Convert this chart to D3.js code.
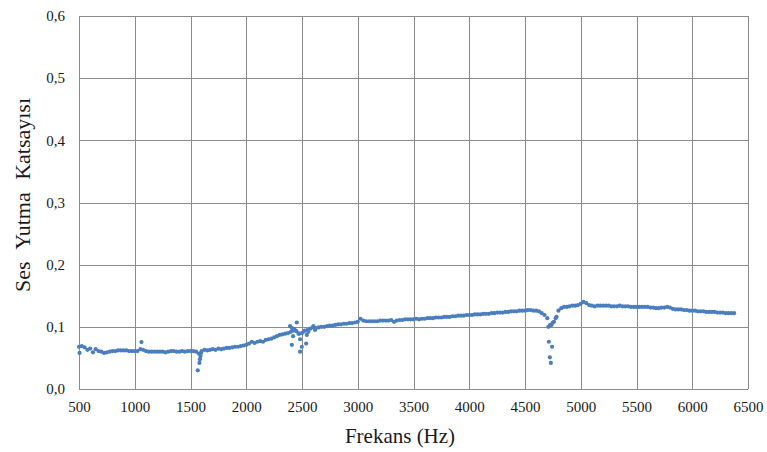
<!DOCTYPE html>
<html>
<head>
<meta charset="utf-8">
<script src="https://cdn.jsdelivr.net/npm/d3@7"></script>
<style>
  body { margin: 0; background: #fff; }
  svg { display: block; }
</style>
</head>
<body>
<div id="chart"></div>
<script>
// measured absorption, 25 Hz grid
const freq = [
  500, 525, 550, 575, 600, 625, 650, 675, 700, 725, 750, 775, 800, 825, 850, 875, 900, 925, 950, 975,
  1000, 1025, 1050, 1075, 1100, 1125, 1150, 1175, 1200, 1225, 1250, 1275, 1300, 1325, 1350, 1375, 1400, 1425, 1450, 1475,
  1500, 1525, 1550, 1575, 1600, 1625, 1650, 1675, 1700, 1725, 1750, 1775, 1800, 1825, 1850, 1875, 1900, 1925, 1950, 1975,
  2000, 2025, 2050, 2075, 2100, 2125, 2150, 2175, 2200, 2225, 2250, 2275, 2300, 2325, 2350, 2375, 2400, 2425, 2450, 2475,
  2500, 2525, 2550, 2575, 2600, 2625, 2650, 2675, 2700, 2725, 2750, 2775, 2800, 2825, 2850, 2875, 2900, 2925, 2950, 2975,
  3000, 3025, 3050, 3075, 3100, 3125, 3150, 3175, 3200, 3225, 3250, 3275, 3300, 3325, 3350, 3375, 3400, 3425, 3450, 3475,
  3500, 3525, 3550, 3575, 3600, 3625, 3650, 3675, 3700, 3725, 3750, 3775, 3800, 3825, 3850, 3875, 3900, 3925, 3950, 3975,
  4000, 4025, 4050, 4075, 4100, 4125, 4150, 4175, 4200, 4225, 4250, 4275, 4300, 4325, 4350, 4375, 4400, 4425, 4450, 4475,
  4500, 4525, 4550, 4575, 4600, 4625, 4650, 4675, 4700, 4725, 4750, 4775, 4800, 4825, 4850, 4875, 4900, 4925, 4950, 4975,
  5000, 5025, 5050, 5075, 5100, 5125, 5150, 5175, 5200, 5225, 5250, 5275, 5300, 5325, 5350, 5375, 5400, 5425, 5450, 5475,
  5500, 5525, 5550, 5575, 5600, 5625, 5650, 5675, 5700, 5725, 5750, 5775, 5800, 5825, 5850, 5875, 5900, 5925, 5950, 5975,
  6000, 6025, 6050, 6075, 6100, 6125, 6150, 6175, 6200, 6225, 6250, 6275, 6300, 6325, 6350, 6375
];
const absorption = [
  0.068, 0.069, 0.067, 0.063, 0.065, 0.059, 0.064, 0.061, 0.060, 0.058, 0.059, 0.060, 0.061, 0.061, 0.062, 0.062, 0.062, 0.062, 0.061, 0.061,
  0.061, 0.061, 0.064, 0.063, 0.061, 0.060, 0.060, 0.060, 0.060, 0.060, 0.060, 0.059, 0.060, 0.061, 0.061, 0.060, 0.060, 0.061, 0.060, 0.061,
  0.061, 0.061, 0.060, 0.057, 0.061, 0.063, 0.062, 0.063, 0.064, 0.063, 0.065, 0.064, 0.065, 0.066, 0.066, 0.067, 0.068, 0.068, 0.069, 0.070,
  0.071, 0.073, 0.076, 0.074, 0.076, 0.077, 0.076, 0.079, 0.080, 0.081, 0.083, 0.085, 0.087, 0.088, 0.089, 0.090, 0.092, 0.094, 0.093, 0.089,
  0.090, 0.094, 0.095, 0.097, 0.099, 0.098, 0.099, 0.100, 0.100, 0.101, 0.102, 0.102, 0.103, 0.104, 0.104, 0.105, 0.105, 0.106, 0.106, 0.107,
  0.108, 0.113, 0.110, 0.109, 0.109, 0.109, 0.109, 0.109, 0.110, 0.110, 0.110, 0.110, 0.111, 0.108, 0.110, 0.111, 0.111, 0.112, 0.112, 0.112,
  0.112, 0.113, 0.112, 0.113, 0.113, 0.114, 0.114, 0.114, 0.115, 0.115, 0.115, 0.116, 0.116, 0.116, 0.117, 0.117, 0.118, 0.118, 0.118, 0.119,
  0.119, 0.119, 0.120, 0.120, 0.120, 0.121, 0.121, 0.121, 0.122, 0.122, 0.123, 0.123, 0.123, 0.124, 0.124, 0.125, 0.125, 0.125, 0.126, 0.126,
  0.126, 0.127, 0.127, 0.126, 0.126, 0.125, 0.122, 0.119, 0.114, 0.103, 0.107, 0.114, 0.126, 0.130, 0.132, 0.132, 0.133, 0.134, 0.134, 0.135,
  0.137, 0.140, 0.138, 0.135, 0.134, 0.133, 0.134, 0.134, 0.134, 0.134, 0.134, 0.133, 0.133, 0.133, 0.134, 0.133, 0.133, 0.133, 0.132, 0.132,
  0.132, 0.132, 0.132, 0.132, 0.132, 0.131, 0.131, 0.130, 0.130, 0.131, 0.131, 0.132, 0.131, 0.129, 0.128, 0.128, 0.128, 0.127, 0.127, 0.126,
  0.126, 0.126, 0.125, 0.125, 0.125, 0.124, 0.124, 0.124, 0.124, 0.123, 0.123, 0.123, 0.122, 0.122, 0.122, 0.122
];

// scattered readings off the grid (dips around 1570, 2450, 4720 Hz)
const extraFreq = [
  505, 1060, 1565, 1580, 1585, 1590, 1595,
  2393, 2409, 2410, 2420, 2432, 2453, 2468, 2483, 2483, 2498, 2513, 2537, 2543, 2557, 2602, 2617,
  4710, 4714, 4723, 4732, 4738, 4743, 4760, 4783
];
const extraAbs = [
  0.058, 0.0755, 0.030, 0.042, 0.048, 0.053, 0.058,
  0.101, 0.071, 0.098, 0.085, 0.096, 0.107, 0.089, 0.060, 0.080, 0.068, 0.092, 0.073, 0.087, 0.092, 0.101, 0.095,
  0.100, 0.076, 0.051, 0.042, 0.103, 0.068, 0.108, 0.116
];

const xTicks = [500, 1000, 1500, 2000, 2500, 3000, 3500, 4000, 4500, 5000, 5500, 6000, 6500];
const yTicks = [0, 0.1, 0.2, 0.3, 0.4, 0.5, 0.6];

const W = 767, H = 452;
const margin = { top: 16, right: 19, bottom: 63, left: 79 };
const width = W - margin.left - margin.right;
const height = H - margin.top - margin.bottom;
const serif = "Liberation Serif";
const textColor = "#1a1a1a";

const svg = d3.select("#chart")
  .append("svg")
  .attr("width", W)
  .attr("height", H);

const g = svg.append("g")
  .attr("transform", `translate(${margin.left},${margin.top})`);

const x = d3.scaleLinear().domain([500, 6500]).range([0, width]);
const y = d3.scaleLinear().domain([0, 0.6]).range([height, 0]);

const gridColor = "#8c8c8c";
const fmt = d => d3.format(".1f")(d).replace(".", ",");

// gridlines
g.append("g")
  .selectAll("line")
  .data(xTicks)
  .join("line")
  .attr("x1", d => Math.round(x(d)) + 0.5)
  .attr("x2", d => Math.round(x(d)) + 0.5)
  .attr("y1", 0)
  .attr("y2", height)
  .attr("stroke", gridColor);

g.append("g")
  .selectAll("line")
  .data(yTicks)
  .join("line")
  .attr("x1", 0)
  .attr("x2", width)
  .attr("y1", d => Math.round(y(d)) + 0.5)
  .attr("y2", d => Math.round(y(d)) + 0.5)
  .attr("stroke", gridColor);

// axes (labels only)
g.append("g")
  .attr("transform", `translate(0,${height})`)
  .call(d3.axisBottom(x).tickValues(xTicks).tickSize(0).tickPadding(12).tickFormat(d3.format("d")))
  .attr("font-family", serif)
  .attr("font-size", 15)
  .call(a => a.select(".domain").remove())
  .call(a => a.selectAll("text").attr("fill", textColor));

g.append("g")
  .call(d3.axisLeft(y).tickValues(yTicks).tickSize(0).tickPadding(14).tickFormat(fmt))
  .attr("font-family", serif)
  .attr("font-size", 15)
  .call(a => a.select(".domain").remove())
  .call(a => a.selectAll("text").attr("fill", textColor));

// points
const pts = freq.map((f, i) => ({ f, v: absorption[i] }))
  .concat(extraFreq.map((f, i) => ({ f, v: extraAbs[i] })));

g.append("g")
  .selectAll("circle")
  .data(pts)
  .join("circle")
  .attr("cx", d => x(d.f))
  .attr("cy", d => y(d.v))
  .attr("r", 2.1)
  .attr("fill", "#4a7ebf");

// axis titles
svg.append("text")
  .attr("x", 400)
  .attr("y", 443)
  .attr("text-anchor", "middle")
  .attr("font-family", serif)
  .attr("font-size", 21)
  .attr("fill", textColor)
  .text("Frekans (Hz)");

svg.append("text")
  .attr("transform", "translate(30,195) rotate(-90)")
  .attr("text-anchor", "middle")
  .attr("font-family", serif)
  .attr("font-size", 22)
  .attr("word-spacing", 7)
  .attr("fill", textColor)
  .text("Ses Yutma Katsayısı");
</script>
</body>
</html>
